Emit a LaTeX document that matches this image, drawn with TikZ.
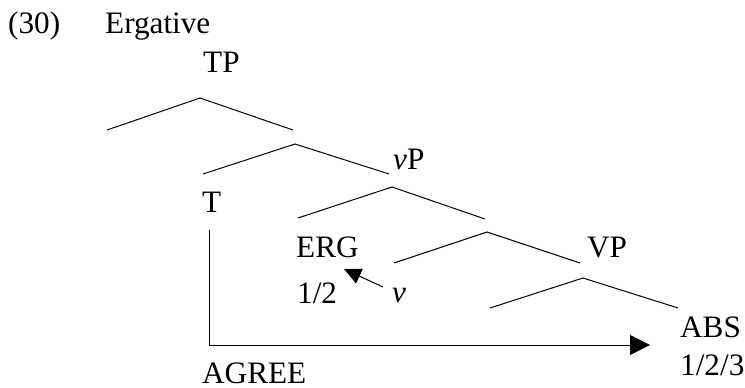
\documentclass[tikz,border=0pt]{standalone}
\usepackage{fontspec}
\setmainfont{Liberation Serif}
\usetikzlibrary{arrows.meta}
\tikzset{
  lbl/.style={inner sep=0pt, anchor=base west, font=\fontsize{31.2}{37}\selectfont},
  branch/.style={line width=1pt, line join=miter},
  agreearrow/.style={line width=1pt, -{Triangle[length=20pt,width=20pt]}},
  varrow/.style={line width=1pt, -{Triangle[length=17pt,width=16pt]}}
}
\begin{document}
\begin{tikzpicture}[x=1pt,y=-1pt]
\useasboundingbox (0,0) rectangle (745,388);
% labels
\node[lbl] (num) at (8,33) {(30)};
\node[lbl] (title) at (105,33) {Ergative};
\node[lbl] (TP) at (203,72.5) {TP};
\node[lbl] (T) at (202,212) {T};
\node[lbl] (vP) at (393,169.5) {\textit{v}P};
\node[lbl] (ERG) at (296,257) {ERG};
\node[lbl] (ergnum) at (297,303) {1/2};
\node[lbl] (v) at (392,302) {\textit{v}};
\node[lbl] (VP) at (587,257) {VP};
\node[lbl] (ABS) at (680,337) {ABS};
\node[lbl] (absnum) at (680,375) {1/2/3};
\node[lbl] (AGREE) at (202,383) {AGREE};
% branch points
\coordinate (aL) at (107,130); \coordinate (aM) at (200,98); \coordinate (aR) at (293,130);
\coordinate (bL) at (203,174); \coordinate (bM) at (295,144); \coordinate (bR) at (389,174);
\coordinate (cL) at (298,218); \coordinate (cM) at (392,187); \coordinate (cR) at (485,219);
\coordinate (dL) at (394,263); \coordinate (dM) at (487,232); \coordinate (dR) at (580,263);
\coordinate (eL) at (490,308); \coordinate (eM) at (583,278); \coordinate (eR) at (678,308);
\draw[branch] (aL) -- (aM) -- (aR);
\draw[branch] (bL) -- (bM) -- (bR);
\draw[branch] (cL) -- (cM) -- (cR);
\draw[branch] (dL) -- (dM) -- (dR);
\draw[branch] (eL) -- (eM) -- (eR);
% agree arrow
\coordinate (agS) at (209,230);
\coordinate (agC) at (209,345);
\coordinate (agE) at (650,345);
\draw[agreearrow] (agS) -- (agC) -- (agE);
% v arrow
\coordinate (vS) at (383,287);
\coordinate (vE) at (344,269);
\draw[varrow] (vS) -- (vE);
\end{tikzpicture}
\end{document}
